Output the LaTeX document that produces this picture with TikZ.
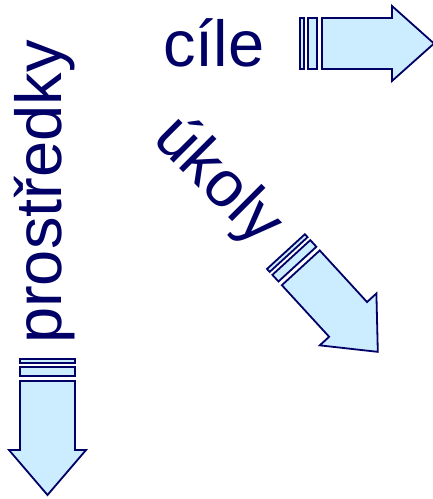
\documentclass[tikz,border=0pt]{standalone}
\usepackage{fontspec}
\setmainfont{Liberation Sans}
\definecolor{navy}{RGB}{0,0,102}
\definecolor{lightblue}{RGB}{204,236,255}
\tikzset{
  arrowpart/.style={draw=navy, fill=lightblue, line width=1.8pt, line join=miter},
  bigtext/.style={text=navy, inner sep=0pt, font=\fontsize{65}{65}\selectfont}
}
% #1 position, #2 rotation, #3 body half width, #4 head half width, #5 body length, #6 head length
\newcommand\blockarrow[6]{%
  \begin{scope}[shift={(#1)}, rotate=#2]
    \draw[arrowpart] (-22,-#3) rectangle (-18,#3);
    \draw[arrowpart] (-14,-#3) rectangle (-5,#3);
    \draw[arrowpart] (0,-#3) -- (#5,-#3) -- (#5,-#4) -- ({#5+#6},0) -- (#5,#4) -- (#5,#3) -- (0,#3) -- cycle;
  \end{scope}}
\begin{document}
\begin{tikzpicture}[x=1pt, y=-1pt]
  \useasboundingbox (0,0) rectangle (433,499);
  \node[bigtext, anchor=base west] (cile) at (163,66) {cíle};
  \node[bigtext, anchor=base west, rotate=90] (prostredky) at (61,344) {prostředky};
  \node[bigtext, anchor=base west, rotate=-45] (ukoly) at (151,140) {úkoly};
  \blockarrow{322,43.5}{0}{25.5}{37.5}{70}{42}
  \blockarrow{47.5,381}{-90}{27.5}{38.5}{69}{45}
  \blockarrow{300.8,267.8}{-47.5}{25.7}{38.4}{70}{44}
\end{tikzpicture}
\end{document}
